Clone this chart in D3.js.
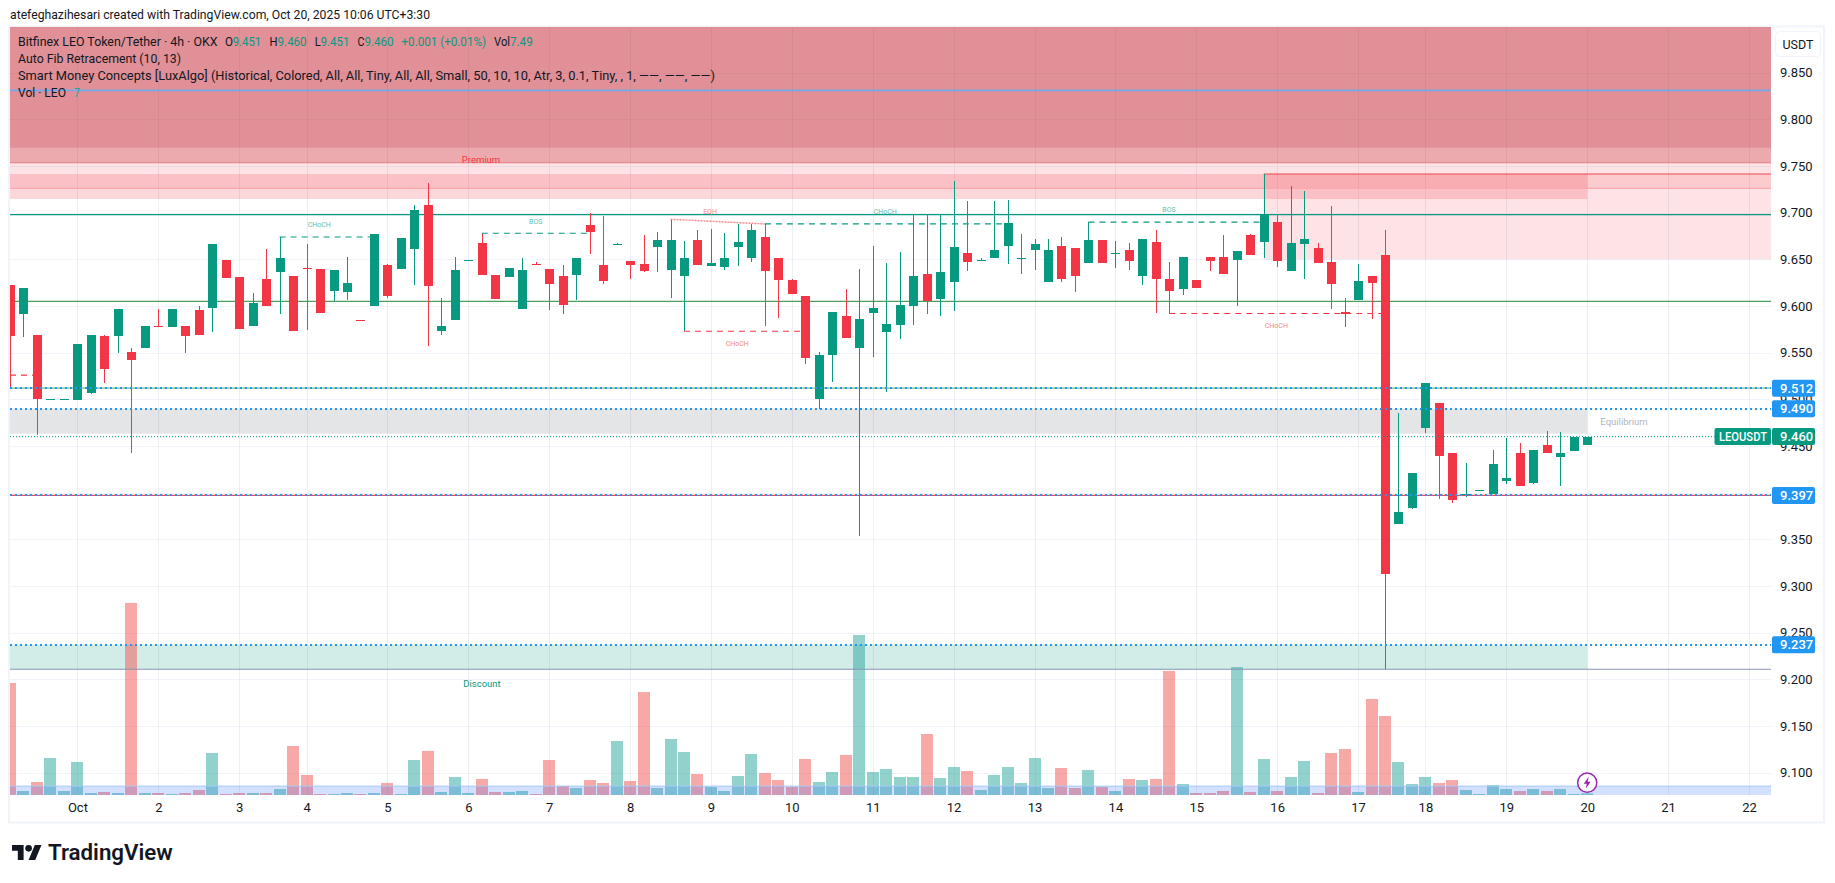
<!DOCTYPE html>
<html>
<head>
<meta charset="utf-8">
<title>LEOUSDT</title>
<script src="https://cdn.jsdelivr.net/npm/d3@7"></script>
<style>
  html, body { margin: 0; padding: 0; background: #fff; }
  svg { display: block; }
  text { font-family: "Roboto", "Liberation Sans", sans-serif; }
</style>
</head>
<body>
<svg id="chart" width="1835" height="883"></svg>
<script>
// Candles, one array per field, oldest first (4h bars)
const opens = [
  9.623,9.591,9.569,9.500,9.500,9.499,9.507,9.568,9.568,9.551,
  9.555,9.579,9.578,9.579,9.596,9.598,9.649,9.631,9.579,9.629,
  9.636,9.632,9.641,9.640,9.616,9.615,9.585,9.600,9.644,9.640,
  9.661,9.708,9.573,9.585,9.649,9.668,9.633,9.631,9.597,9.645,
  9.640,9.632,9.633,9.687,9.644,9.666,9.648,9.645,9.663,9.639,
  9.632,9.671,9.643,9.642,9.663,9.652,9.674,9.651,9.628,9.611,
  9.500,9.548,9.589,9.555,9.593,9.572,9.580,9.600,9.634,9.608,
  9.626,9.657,9.649,9.652,9.664,9.652,9.660,9.626,9.664,9.662,
  9.646,9.671,9.656,9.660,9.632,9.669,9.629,9.618,9.628,9.653,
  9.653,9.649,9.676,9.669,9.690,9.638,9.666,9.662,9.647,9.594,
  9.607,9.632,9.655,9.366,9.383,9.469,9.496,9.442,9.397,9.403,
  9.398,9.413,9.442,9.410,9.451,9.438,9.445,9.451];
const highs = [
  9.623,9.619,9.569,9.500,9.500,9.559,9.569,9.569,9.597,9.555,
  9.579,9.597,9.597,9.579,9.600,9.666,9.649,9.631,9.614,9.661,
  9.674,9.632,9.666,9.640,9.639,9.653,9.585,9.677,9.645,9.673,
  9.708,9.732,9.609,9.653,9.649,9.678,9.633,9.641,9.652,9.647,
  9.640,9.644,9.651,9.700,9.696,9.668,9.648,9.676,9.679,9.693,
  9.670,9.681,9.683,9.678,9.688,9.688,9.688,9.651,9.629,9.611,
  9.551,9.594,9.618,9.640,9.664,9.646,9.658,9.698,9.698,9.698,
  9.734,9.713,9.651,9.713,9.714,9.677,9.672,9.672,9.674,9.662,
  9.690,9.671,9.670,9.668,9.672,9.681,9.647,9.653,9.628,9.653,
  9.676,9.659,9.677,9.742,9.698,9.729,9.723,9.668,9.707,9.609,
  9.645,9.632,9.681,9.485,9.421,9.517,9.496,9.443,9.432,9.403,
  9.446,9.459,9.453,9.446,9.466,9.465,9.460,9.460];
const lows = [
  9.513,9.567,9.462,9.500,9.500,9.499,9.506,9.517,9.550,9.442,
  9.555,9.578,9.578,9.550,9.569,9.572,9.630,9.575,9.579,9.600,
  9.591,9.573,9.574,9.593,9.605,9.607,9.584,9.600,9.609,9.640,
  9.623,9.557,9.569,9.585,9.649,9.633,9.608,9.631,9.597,9.644,
  9.596,9.591,9.607,9.656,9.624,9.666,9.629,9.636,9.636,9.609,
  9.573,9.644,9.643,9.639,9.643,9.647,9.579,9.587,9.613,9.538,
  9.490,9.519,9.566,9.354,9.545,9.508,9.565,9.580,9.592,9.589,
  9.595,9.638,9.649,9.652,9.645,9.634,9.639,9.626,9.626,9.615,
  9.646,9.646,9.641,9.639,9.623,9.593,9.592,9.612,9.619,9.638,
  9.634,9.600,9.655,9.651,9.642,9.638,9.629,9.646,9.597,9.578,
  9.607,9.586,9.211,9.366,9.382,9.464,9.393,9.389,9.395,9.403,
  9.398,9.409,9.407,9.409,9.442,9.407,9.445,9.451];
const closes = [
  9.568,9.619,9.500,9.500,9.500,9.559,9.569,9.533,9.597,9.542,
  9.579,9.578,9.597,9.568,9.569,9.666,9.630,9.575,9.603,9.600,
  9.651,9.573,9.640,9.593,9.639,9.625,9.584,9.677,9.611,9.673,
  9.703,9.622,9.579,9.639,9.649,9.633,9.608,9.641,9.639,9.644,
  9.624,9.601,9.651,9.679,9.627,9.666,9.644,9.638,9.671,9.671,
  9.652,9.644,9.646,9.651,9.669,9.681,9.638,9.628,9.613,9.544,
  9.548,9.594,9.566,9.586,9.598,9.581,9.601,9.632,9.605,9.636,
  9.663,9.647,9.649,9.660,9.689,9.652,9.667,9.660,9.629,9.632,
  9.671,9.646,9.657,9.648,9.672,9.629,9.616,9.653,9.619,9.648,
  9.634,9.659,9.655,9.698,9.648,9.668,9.672,9.646,9.624,9.592,
  9.627,9.625,9.313,9.379,9.421,9.517,9.439,9.392,9.399,9.403,
  9.431,9.416,9.407,9.446,9.442,9.442,9.460,9.460];
const volumes = [
  504,18,58.5,166.5,18,148.5,9,13.5,9,864,
  9,9,4.5,9,22.5,189,4.5,9,9,9,
  27,220.5,90,4.5,4.5,9,4.5,9,54,4.5,
  157.5,198,13.5,81,9,72,13.5,13.5,18,4.5,
  157.5,40.5,31.5,67.5,54,243,63,463.5,31.5,252,
  193.5,94.5,36,18,85.5,184.5,99,67.5,36,162,
  58.5,103.5,180,720,103.5,117,81,81,274.5,76.5,
  126,108,22.5,90,126,54,166.5,31.5,121.5,31.5,
  112.5,36,18,72,67.5,72,558,49.5,9,9,
  18,576,13.5,162,18,81,153,9,189,207,
  13.5,432,355.5,148.5,49.5,81,54,67.5,22.5,4.5,
  45,27,18,27,18,27,4.5,7.49];

// Axis ticks
const priceTicks = [9.85,9.80,9.75,9.70,9.65,9.60,9.55,9.50,9.45,9.40,9.35,9.30,9.25,9.20,9.15,9.10];
const dayBars   = [5,11,17,22,28,34,40,46,52,58,64,70,76,82,88,94,100,105,111,117,123,129];
const dayLabels = ["Oct","2","3","4","5","6","7","8","9","10","11","12","13","14","15","16","17","18","19","20","21","22"];

// Indicator levels [price, colour, width]
const fibLines = [[9.512,"#75c27a",1.2],[9.397,"#f0484e",1.2],[9.698,"#089981",1.2],[9.605,"#4e9f5b",1.2],[9.2107,"#8a93b5",1.2],[9.8312,"#74a9ea",1.6],[9.7536,"#e57b86",1.2],[9.7262,"#faa7ae",1.2]];
const alertLevels = [9.512,9.490,9.397,9.237];
// [fromBar, toBar, price, kind]
const structures = [[0,2,9.526,"down"],[20,27,9.674,"up"],[35,43,9.678,"up"],[50,59,9.573,"down"],[56,74,9.688,"up"],[80,93,9.690,"up"],[86,102,9.592,"down"]];
// [bar, price, text, kind]
const structureLabels = [
  [22.94,9.6872,"CHoCH","up"],[39,9.6908,"BOS","up"],[51.93,9.7016,"EQH","down"],
  [64.93,9.7011,"CHoCH","up"],[85.98,9.7033,"BOS","up"],[53.95,9.5596,"CHoCH","down"],[93.94,9.5789,"CHoCH","down"]];
// [fromBar, toBar, topPrice, bottomPrice, fill]
const zones = [
  [-2,135,9.8991,9.7536,"rgba(208,42,52,.4)"],
  [-2,135,9.8991,9.7697,"rgba(181,40,54,.2)"],
  [-2,135,9.7536,9.7262,"rgba(242,54,69,.14)"],
  [-2,117,9.7415,9.7147,"rgba(242,54,69,.2)"],
  [93,135,9.7415,9.6501,"rgba(242,54,69,.14)"],
  [-2,117,9.490,9.4632,"rgba(120,123,134,.2)"],
  [-2,117,9.237,9.2107,"rgba(8,153,129,.18)"]];
const volumeBand = [0,40];

const UP = "#089981", DOWN = "#f23645";
const plotLeft = 10, plotRight = 1771, plotTop = 27, plotBottom = 795, frameBottom = 822;

const svg = d3.select("#chart");
const x = d3.scaleLinear().domain([0,117]).range([10,1587.2]);
const y = d3.scaleLinear().domain([9.8991,9.0759]).range([plotTop,plotBottom]);
const yVol = d3.scaleLinear().domain([0,864]).range([plotBottom,603]);

// Header line
svg.append("text").attr("x",10).attr("y",19).attr("font-size",13).attr("fill","#131722")
  .attr("textLength",420).attr("lengthAdjust","spacingAndGlyphs")
  .text("atefeghazihesari created with TradingView.com, Oct 20, 2025 10:06 UTC+3:30");

// Frame
svg.append("rect").attr("x",9).attr("y",26.5).attr("width",1815).attr("height",frameBottom-26)
  .attr("fill","#fff").attr("stroke","#f0f3fa").attr("stroke-width",2);

svg.append("defs").append("clipPath").attr("id","plot").append("rect")
  .attr("x",plotLeft).attr("y",plotTop).attr("width",plotRight-plotLeft).attr("height",plotBottom-plotTop);
const plot = svg.append("g").attr("clip-path","url(#plot)");

// Grid
plot.append("g").selectAll("line").data(priceTicks).enter().append("line")
  .attr("x1",plotLeft).attr("x2",plotRight).attr("y1",d => Math.round(y(d))+.5).attr("y2",d => Math.round(y(d))+.5)
  .attr("stroke","#f0f3fa");
plot.append("g").selectAll("line").data(dayBars).enter().append("line")
  .attr("y1",plotTop).attr("y2",plotBottom).attr("x1",d => Math.round(x(d))+.5).attr("x2",d => Math.round(x(d))+.5)
  .attr("stroke","#eceef3");

// Zones
plot.append("g").selectAll("rect").data(zones).enter().append("rect")
  .attr("x",d => x(d[0])).attr("width",d => x(d[1])-x(d[0]))
  .attr("y",d => y(d[2])).attr("height",d => y(d[3])-y(d[2]))
  .attr("fill",d => d[4]);

// Volume
plot.append("g").selectAll("rect").data(volumes).enter().append("rect")
  .attr("x",(d,i) => Math.round(x(i))-6).attr("width",12)
  .attr("y",d => yVol(d)).attr("height",d => plotBottom-yVol(d))
  .attr("fill",(d,i) => closes[i] >= opens[i] ? "rgba(38,166,154,.5)" : "rgba(239,83,80,.5)");
plot.append("rect").attr("x",plotLeft).attr("width",plotRight-plotLeft)
  .attr("y",yVol(volumeBand[1])).attr("height",yVol(volumeBand[0])-yVol(volumeBand[1]))
  .attr("fill","rgba(41,98,255,.2)");
plot.append("line").attr("x1",plotLeft).attr("x2",plotRight)
  .attr("y1",yVol(volumeBand[1])).attr("y2",yVol(volumeBand[1])).attr("stroke","#a6c8f5");

// Solid levels
plot.append("g").selectAll("line").data(fibLines).enter().append("line")
  .attr("x1",plotLeft).attr("x2",plotRight).attr("y1",d => y(d[0])).attr("y2",d => y(d[0]))
  .attr("stroke",d => d[1]).attr("stroke-width",d => d[2]);
// Upper edge of the order block
plot.append("line").attr("x1",x(93)).attr("x2",plotRight).attr("y1",y(9.7415)).attr("y2",y(9.7415))
  .attr("stroke","#f0484e").attr("stroke-width",1.1);

// Candles
const candles = plot.append("g").selectAll("g").data(opens).enter().append("g")
  .attr("fill",(d,i) => closes[i] >= opens[i] ? UP : DOWN).attr("shape-rendering","crispEdges");
candles.append("rect")
  .attr("x",(d,i) => Math.round(x(i))).attr("width",1)
  .attr("y",(d,i) => y(highs[i])).attr("height",(d,i) => y(lows[i])-y(highs[i]));
candles.append("rect")
  .attr("x",(d,i) => Math.round(x(i))-4).attr("width",9)
  .attr("y",(d,i) => y(Math.max(opens[i],closes[i])))
  .attr("height",(d,i) => Math.max(1,Math.abs(y(opens[i])-y(closes[i]))));

// Dashed structure lines
plot.append("g").selectAll("line").data(structures).enter().append("line")
  .attr("x1",d => x(d[0])).attr("x2",d => x(d[1])).attr("y1",d => y(d[2])).attr("y2",d => y(d[2]))
  .attr("stroke",d => d[3]==="up" ? UP : DOWN).attr("stroke-width",1.2).attr("stroke-dasharray","6 5");
// EQH dotted link
plot.append("line").attr("x1",x(49)).attr("x2",x(56)).attr("y1",y(9.693)).attr("y2",y(9.688))
  .attr("stroke","#f7848c").attr("stroke-width",1.4).attr("stroke-dasharray","2 1");

// Dotted levels
plot.append("g").selectAll("line").data(alertLevels).enter().append("line")
  .attr("x1",plotLeft).attr("x2",plotRight).attr("y1",d => Math.round(y(d))).attr("y2",d => Math.round(y(d)))
  .attr("stroke","#2196f3").attr("stroke-width",2).attr("stroke-dasharray","2 3");
plot.append("line").attr("x1",plotLeft).attr("x2",plotRight).attr("y1",y(closes[117])).attr("y2",y(closes[117]))
  .attr("stroke",UP).attr("stroke-dasharray","1 2");

// Structure labels
plot.append("g").selectAll("text").data(structureLabels).enter().append("text")
  .attr("x",d => x(d[0])).attr("y",d => y(d[1])+2.5).attr("text-anchor","middle").attr("font-size",7)
  .attr("fill",d => d[3]==="up" ? "#5cc2b0" : "#f7848c").text(d => d[2]);

// Zone labels
const zoneLabels = [[481,159.5,"Premium",DOWN],[482,683.5,"Discount",UP],[1624,422,"Equilibrium","#b2b5be"]];
plot.append("g").selectAll("text").data(zoneLabels).enter().append("text")
  .attr("x",d => d[0]).attr("y",d => d[1]+3).attr("text-anchor","middle").attr("font-size",9.5)
  .attr("fill",d => d[3]).text(d => d[2]);

// Axes
const priceAxis = svg.append("g").attr("transform",`translate(${plotRight},0)`)
  .call(d3.axisRight(y).tickValues(priceTicks).tickSize(0).tickPadding(9).tickFormat(d3.format(".3f")));
const timeAxis = svg.append("g").attr("transform",`translate(0,${plotBottom})`)
  .call(d3.axisBottom(x).tickValues(dayBars).tickSize(0).tickPadding(8).tickFormat((d,i) => dayLabels[i]));
[priceAxis,timeAxis].forEach(a => {
  a.select(".domain").remove();
  a.selectAll("text").attr("font-family",'"Roboto","Liberation Sans",sans-serif').attr("font-size",13).attr("fill","#131722");
});

// Price tags
const tags = svg.append("g").selectAll("g").data(alertLevels).enter().append("g");
tags.append("rect").attr("x",1772).attr("y",d => y(d)-8.5).attr("width",43).attr("height",17).attr("rx",2).attr("fill","#2196f3");
tags.append("text").attr("x",1780).attr("y",d => y(d)+4.5).attr("font-size",13).attr("font-weight",500).attr("fill","#fff").text(d => d.toFixed(3));

svg.append("rect").attr("x",1714.5).attr("y",428).attr("width",56.5).attr("height",17).attr("rx",2).attr("fill",UP);
svg.append("text").attr("x",1719).attr("y",441).attr("font-size",13).attr("font-weight",500).attr("fill","#fff")
  .attr("textLength",48).attr("lengthAdjust","spacingAndGlyphs").text("LEOUSDT");
svg.append("rect").attr("x",1772).attr("y",428).attr("width",43).attr("height",17).attr("rx",2).attr("fill",UP);
svg.append("text").attr("x",1780).attr("y",441).attr("font-size",13).attr("font-weight",500).attr("fill","#fff").text(closes[117].toFixed(3));

// USDT button
svg.append("rect").attr("x",1775.5).attr("y",31.5).attr("width",45).attr("height",25).attr("rx",4).attr("fill","#fff").attr("stroke","#f0f3fa");
svg.append("text").attr("x",1798).attr("y",49).attr("text-anchor","middle").attr("font-size",12.5).attr("fill","#131722").text("USDT");

// Legend, each piece is [x, text, colour, width, baseline]
const INK = "#131722";
const legendRows = [
  [18,"Bitfinex LEO Token/Tether · 4h · OKX",INK,199.5,46],
  [225,"O",INK,8,46],[232.7,"9.451",UP,28.5,46],[269.4,"H",INK,8,46],[277.6,"9.460",UP,29,46],
  [314.7,"L",INK,6,46],[320.4,"9.451",UP,29,46],[357.6,"C",INK,7,46],[364.5,"9.460",UP,29,46],
  [401.5,"+0.001 (+0.01%)",UP,84.5,46],[494,"Vol",INK,16,46],[510,"7.49",UP,22.7,46],
  [18,"Auto Fib Retracement (10, 13)",INK,163,63],
  [18,"Smart Money Concepts [LuxAlgo] (Historical, Colored, All, All, Tiny, All, All, Small, 50, 10, 10, Atr, 3, 0.1, Tiny, , 1, ——, ——, ——)",INK,697,80],
  [18,"Vol · LEO",INK,48,97],[74,"7","#26a69a",6,97]];
svg.append("g").attr("font-size",13).selectAll("text").data(legendRows).enter().append("text")
  .attr("x",d => d[0]).attr("y",d => d[4]).attr("fill",d => d[2])
  .attr("textLength",d => d[3]).attr("lengthAdjust","spacingAndGlyphs").text(d => d[1]);

// Lightning marker
const bolt = svg.append("g").attr("transform",`translate(${x(117)},782.7)`);
bolt.append("circle").attr("r",9.6).attr("fill","#fff").attr("stroke","#9c27b0").attr("stroke-width",1.5);
bolt.append("path").attr("d","M1.5 -6 L-3.5 1 L-0.5 1 L-1.5 6 L3.5 -1 L0.5 -1 Z").attr("fill","#9c27b0");

// TradingView logo
const logo = svg.append("g").attr("transform","translate(12,841.7) scale(.83)").attr("fill","#131722");
logo.append("path").attr("d","M14 22H7V11H0V4h14v18zM28 22h-8l7.5-18h8L28 22z");
logo.append("circle").attr("cx",20).attr("cy",8).attr("r",4);
svg.append("text").attr("x",48).attr("y",860).attr("font-size",22.3).attr("font-weight",600).attr("fill","#131722").text("TradingView");
</script>
</body>
</html>
